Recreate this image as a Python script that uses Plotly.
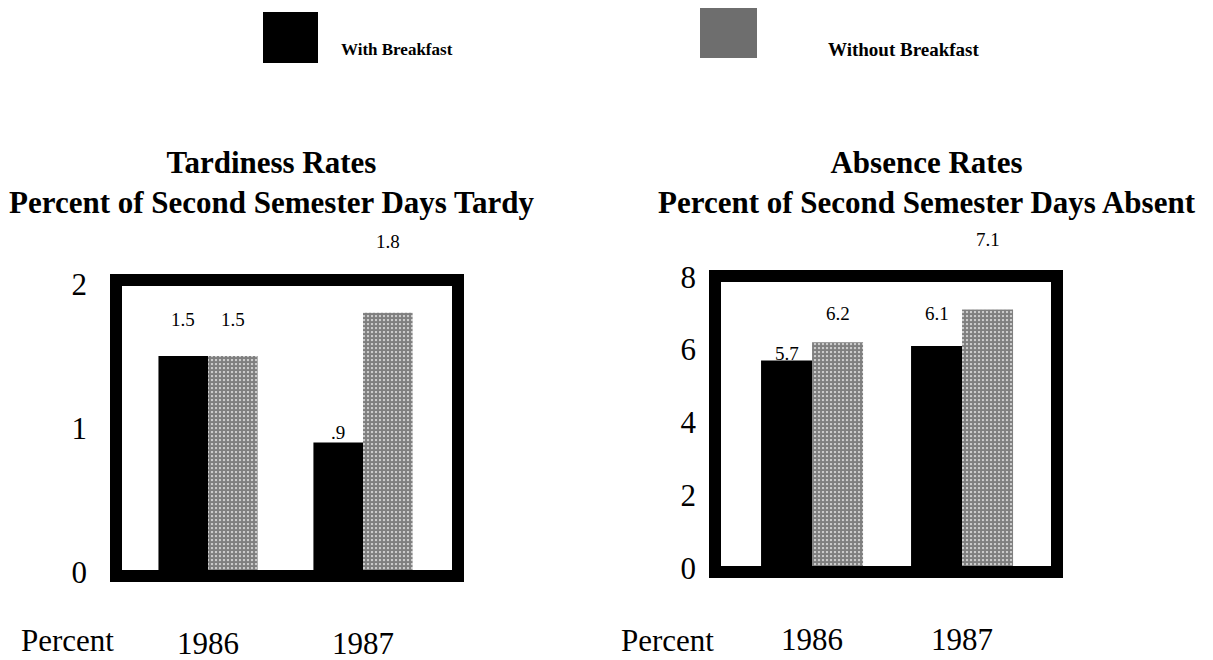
import plotly.graph_objects as go

# ---- data ----
years = ["1986", "1987"]
tardy_with = [1.5, 0.9]
tardy_without = [1.5, 1.8]
tardy_with_lbl = ["1.5", ".9"]
tardy_without_lbl = ["1.5", "1.8"]
absent_with = [5.7, 6.1]
absent_without = [6.2, 7.1]
absent_with_lbl = ["5.7", "6.1"]
absent_without_lbl = ["6.2", "7.1"]
tardy_ticks = [0, 1, 2]
absent_ticks = [0, 2, 4, 6, 8]
series_names = ["With Breakfast", "Without Breakfast"]
titles = ["Tardiness Rates<br>Percent of Second Semester Days Tardy",
          "Absence Rates<br>Percent of Second Semester Days Absent"]

OFF = 8  # default page body margin
W, H = 1213 - OFF, 660 - OFF
SERIF = "Liberation Serif, Times New Roman, serif"

def px(x):
    return (x - OFF) / W

def py(y):
    return 1 - (y - OFF) / H

pattern = dict(shape=".", fgcolor="#000000", bgcolor="white", size=4, solidity=0.8)

fig = go.Figure()

panels = [
    dict(xa="x", ya="y", w=0.32, with_=tardy_with, without=tardy_without,
         wl=tardy_with_lbl, wol=tardy_without_lbl,
         wshift=[37, 10], woshift=[37, 71]),
    dict(xa="x2", ya="y2", w=0.34, with_=absent_with, without=absent_without,
         wl=absent_with_lbl, wol=absent_without_lbl,
         wshift=[7, 32], woshift=[29, 70]),
]

lbl_font = dict(family=SERIF, size=19, color="black")
annotations = []
for p in panels:
    fig.add_trace(go.Bar(x=years, y=p["with_"], width=p["w"], offset=-p["w"],
                         marker=dict(color="black", line=dict(width=0)),
                         name=series_names[0], showlegend=False,
                         xaxis=p["xa"], yaxis=p["ya"]))
    fig.add_trace(go.Bar(x=years, y=p["without"], width=p["w"], offset=0,
                         marker=dict(color="white", pattern=pattern, line=dict(width=0)),
                         name=series_names[1], showlegend=False,
                         xaxis=p["xa"], yaxis=p["ya"]))
    for i in range(len(years)):
        annotations.append(dict(x=i - p["w"] / 2, y=p["with_"][i], xref=p["xa"], yref=p["ya"],
                                text=p["wl"][i], showarrow=False, yshift=p["wshift"][i],
                                xanchor="center", yanchor="middle", font=lbl_font))
        annotations.append(dict(x=i + p["w"] / 2, y=p["without"][i], xref=p["xa"], yref=p["ya"],
                                text=p["wol"][i], showarrow=False, yshift=p["woshift"][i],
                                xanchor="center", yanchor="middle", font=lbl_font))

def paper_text(xc, yc, text, size, bold=False):
    return dict(x=px(xc), y=py(yc), xref="paper", yref="paper",
                text=("<b>%s</b>" % text) if bold else text,
                showarrow=False, xanchor="center", yanchor="middle", align="center",
                font=dict(family=SERIF, size=size, color="black"))

# titles (two lines each)
annotations.append(paper_text(271, 182, titles[0], 31, True))
annotations.append(paper_text(927, 182, titles[1], 31, True))
# "Percent" labels
annotations.append(paper_text(67, 640, "Percent", 31))
annotations.append(paper_text(667, 640, "Percent", 31))
# legend labels
annotations.append(paper_text(397, 50, series_names[0], 17, True))
annotations.append(paper_text(903, 50, series_names[1], 19, True))

shapes = [
    dict(type="rect", xref="x domain", yref="y domain", x0=0, x1=1, y0=0, y1=1,
         line=dict(color="black", width=12), layer="above"),
    dict(type="rect", xref="x2 domain", yref="y2 domain", x0=0, x1=1, y0=0, y1=1,
         line=dict(color="black", width=12), layer="above"),
    dict(type="rect", xref="paper", yref="paper", x0=px(263), x1=px(318), y0=py(63), y1=py(12),
         fillcolor="black", line=dict(width=0)),
    dict(type="rect", xref="paper", yref="paper", x0=px(700), x1=px(757), y0=py(58), y1=py(8),
         fillcolor="#6e6e6e", line=dict(width=0)),
]

axis_font = dict(family=SERIF, size=31, color="black")
common = dict(showgrid=False, zeroline=False, showline=False, ticks="", automargin=False,
              tickfont=axis_font)
fig.update_layout(
    width=W, height=H,
    margin=dict(l=0, r=0, t=0, b=0, pad=0, autoexpand=False),
    paper_bgcolor="white", plot_bgcolor="white",
    barmode="overlay",
    showlegend=False,
    annotations=annotations,
    shapes=shapes,
    xaxis=dict(domain=[px(116), px(458)], range=[-0.594, 1.613], type="category",
               ticklabelstandoff=46, anchor="y", **common),
    yaxis=dict(domain=[py(576), py(280)], range=[-0.028, 2.028], tickvals=tardy_ticks,
               ticklabelstandoff=28, anchor="x", **common),
    xaxis2=dict(domain=[px(715), px(1057)], range=[-0.647, 1.633], type="category",
                ticklabelstandoff=46, anchor="y2", **common),
    yaxis2=dict(domain=[py(572), py(276)], range=[-0.11, 8.02], tickvals=absent_ticks,
                ticklabelstandoff=18, anchor="x2", **common),
)

fig.write_html("out.html")
